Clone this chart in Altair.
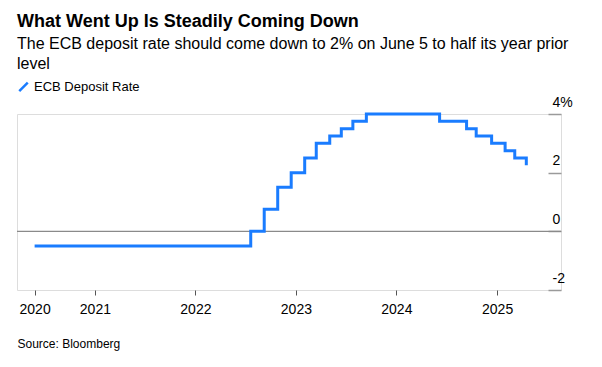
import altair as alt
import pandas as pd

# ECB deposit rate step changes (decision dates) and levels, in %
dates = ["2020-05-27", "2022-07-21", "2022-09-08", "2022-10-27", "2022-12-15",
         "2023-02-02", "2023-03-16", "2023-05-04", "2023-06-15", "2023-07-27",
         "2023-09-14", "2024-06-06", "2024-09-12", "2024-10-17", "2024-12-12",
         "2025-01-30", "2025-03-06", "2025-04-17"]
rates = [-0.5, 0.0, 0.75, 1.5, 2.0,
         2.5, 3.0, 3.25, 3.5, 3.75,
         4.0, 3.75, 3.5, 3.25, 3.0,
         2.75, 2.5, 2.25]
series_name = "ECB Deposit Rate"

# axis tick positions (year, month, day) and y tick values
x_ticks = [(2020, 5, 27), (2021, 1, 1), (2022, 1, 1), (2023, 1, 1), (2024, 1, 1), (2025, 1, 1)]
y_ticks = [-2, 0, 2, 4]
zero_line = [0]

df = pd.DataFrame({"date": dates, "rate": rates, "series": [series_name] * len(dates)})
zero_df = pd.DataFrame({"v": zero_line})

FONT = "Liberation Sans"

x_enc = alt.X(
    "date:T",
    scale=alt.Scale(type="utc",
                    domain=[alt.DateTime(year=2020, month=3, date=24, utc=True),
                            alt.DateTime(year=2025, month=8, date=21, utc=True)]),
    axis=alt.Axis(
        values=[alt.DateTime(year=y, month=m, date=d, utc=True) for (y, m, d) in x_ticks],
        labelExpr="utcFormat(datum.value, '%Y')",
        domain=False, grid=False,
        tickSize=5, tickColor="#555555", tickWidth=1,
        labelPadding=7.5, labelFontSize=14, labelColor="black", labelFont=FONT,
        labelFlush=False, labelOverlap=False,
        title="Source: Bloomberg", titleX=0, titleY=57.7, titleAlign="left",
        titleBaseline="alphabetic", titleFontSize=12, titleFontWeight="normal",
        titleColor="black", titleFont=FONT,
    ),
)

y_scale = alt.Scale(domain=[-2, 4], nice=False, zero=False)

line = alt.Chart(df).mark_line(interpolate="step-after", strokeWidth=3).encode(
    x=x_enc,
    y=alt.Y(
        "rate:Q", scale=y_scale,
        axis=alt.Axis(
            orient="right", values=y_ticks, offset=-13, tickSize=13,
            domain=False, grid=False, tickColor="#9a9a9a", tickWidth=1.5,
            labelPadding=-9, labelAlign="left", labelBaseline="alphabetic",
            labelOffset=-8, labelFontSize=14, labelColor="black", labelFont=FONT,
            labelFlush=False, labelOverlap=False,
            labelExpr="datum.value == 4 ? '4%' : '' + datum.value",
            title=None,
        ),
    ),
    color=alt.Color(
        "series:N",
        scale=alt.Scale(range=["#1a7cff"]),
        legend=alt.Legend(
            orient="none", legendX=0, legendY=-33.7, title=None,
            symbolType="M-1,1L1,-1", symbolSize=72, symbolStrokeWidth=2.5,
            labelFontSize=13, labelColor="black", labelFont=FONT,
            labelOffset=4, padding=0,
        ),
    ),
)

zero = alt.Chart(zero_df).mark_rule(color="#8a8a8a", strokeWidth=1.4).encode(
    y=alt.Y("v:Q", scale=y_scale)
)

chart = alt.layer(zero, line).properties(
    width=544,
    height=176,
    padding={"left": 8, "top": 5, "right": 5, "bottom": 5},
    title=alt.TitleParams(
        text="What Went Up Is Steadily Coming Down",
        subtitle=["The ECB deposit rate should come down to 2% on June 5 to half its year prior",
                  "level"],
        anchor="start", frame="group",
        font=FONT, fontSize=18, fontWeight="bold", color="black",
        subtitleFont=FONT, subtitleFontSize=16, subtitleColor="black",
        subtitleLineHeight=19.5, subtitlePadding=5, offset=8.6,
    ),
).configure_view(stroke=None).configure(background="white")

chart.save("out.html", embed_options={"renderer": "svg", "actions": False})
